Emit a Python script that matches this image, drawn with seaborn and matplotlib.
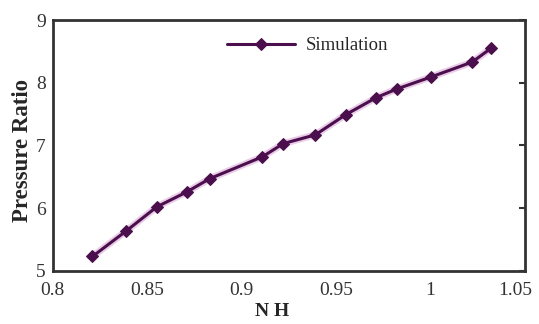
import matplotlib
matplotlib.use("Agg")
import matplotlib.pyplot as plt
import matplotlib.transforms as mtransforms
import seaborn as sns
import pandas as pd

nh = [0.821, 0.839, 0.855, 0.871, 0.883, 0.911, 0.922, 0.939, 0.955, 0.971, 0.982, 1.000, 1.022, 1.032]
pressure_ratio = [5.23, 5.64, 6.02, 6.26, 6.47, 6.82, 7.03, 7.17, 7.49, 7.76, 7.90, 8.09, 8.33, 8.55]
series_name = "Simulation"

df = pd.DataFrame({"NH": nh, "PR": pressure_ratio, "series": series_name})

sns.set_style("white")
plt.rcParams["font.family"] = ["Liberation Serif", "DejaVu Serif"]

fig = plt.figure(figsize=(5.39, 3.24), dpi=100)
ax = fig.add_axes([0.098, 0.164, 0.876, 0.774])

color = "#4a0f4c"
# soft halo around the curve
ax.plot(df["NH"], df["PR"], color="#d9a3d6", lw=5, alpha=0.55, zorder=1)
sns.lineplot(data=df, x="NH", y="PR", hue="series", palette=[color], marker="D",
             markersize=6.5, lw=2.2, ax=ax, zorder=3, markeredgecolor=color)

ax.set_xlim(0.8, 1.05)
ax.set_ylim(5, 9)
ax.set_xticks([0.8, 0.85, 0.9, 0.95, 1.0, 1.05])
ax.set_xticklabels(["0.8", "0.85", "0.9", "0.95", "1", "1.05"])
ax.set_yticks([5, 6, 7, 8, 9])
ax.set_yticklabels(["5", "6", "7", "8", "9"])
ax.tick_params(direction="in", length=4, width=1.5, labelsize=14, right=True, top=False,
               colors="#333333", labelcolor="#333333")
ax.tick_params(axis="x", pad=8)
ax.tick_params(axis="y", pad=5)
for s in ax.spines.values():
    s.set_linewidth(2)
    s.set_color("#333333")

last = ax.get_xticklabels()[-1]
last.set_transform(last.get_transform() + mtransforms.ScaledTranslation(-10 / 100, 0, fig.dpi_scale_trans))

ax.set_xlabel("N H", fontsize=14, fontweight="bold")
ax.xaxis.set_label_coords(0.464, -0.13)
ax.set_ylabel("Pressure Ratio", fontsize=16.5, fontweight="bold")
ax.yaxis.set_label_coords(-0.043, 0.48)

leg = ax.legend(loc="upper center", bbox_to_anchor=(0.54, 1.0), frameon=False, fontsize=13.5,
                handlelength=3.6, handletextpad=0.6)
leg.set_title(None)

fig.savefig("out.png", dpi=100)
